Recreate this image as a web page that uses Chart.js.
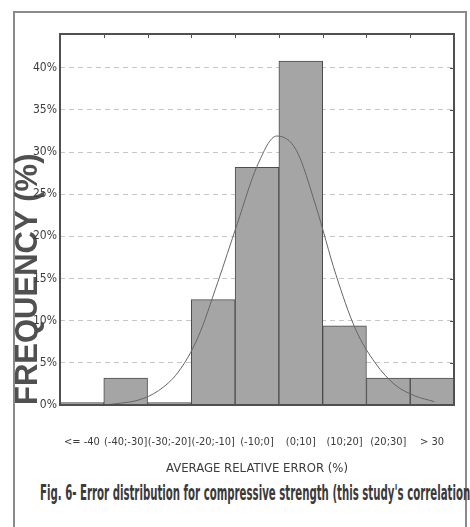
<!DOCTYPE html>
<html>
<head>
<meta charset="utf-8">
<script src="https://cdn.jsdelivr.net/npm/chart.js@4.4.1/dist/chart.umd.min.js"></script>
<style>
  html, body { margin: 0; padding: 0; background: #fff; }
  body { width: 470px; height: 527px; position: relative; overflow: hidden; }
  #frame { position: absolute; left: 13px; top: 11px; width: 450px; height: 530px; border: 2px solid #8a8a8a; border-bottom: none; }
  #wrap { position: absolute; left: 0; top: 0; width: 470px; height: 480px; }
  #caption { position: absolute; left: 40px; top: 480px; white-space: nowrap; font: bold 22px 'DejaVu Sans Condensed', 'Liberation Sans', sans-serif; color: #3a3a3a; transform: scaleX(0.515); transform-origin: 0 0; }
</style>
</head>
<body>
<div id="frame"></div>
<div id="wrap"><canvas id="chart"></canvas></div>
<div id="caption">Fig. 6- Error distribution for compressive strength (this study's correlation</div>
<script>
const categories = ['<= -40', '(-40;-30]', '(-30;-20]', '(-20;-10]', '(-10;0]', '(0;10]', '(10;20]', '(20;30]', '> 30'];
const frequency = [0.3, 3.2, 0.3, 12.5, 28.2, 40.8, 9.4, 3.2, 3.2];

// bins span -50..40 on the error axis; fitted curve
const errorRange = [-50, 40];
const curveError = [-50, -45, -40, -35, -30, -25, -20, -15, -10, -5, 0, 5, 10, 15, 20, 25, 30, 35, 40];
const curveFrequency = [0, 0, 0.2, 0.6, 1.7, 3.9, 8.0, 14.5, 21.5, 28.3, 31.9, 30.2, 23.5, 15.5, 9.0, 5.0, 2.4, 1.1, 0.4];

const yTicks = [0, 5, 10, 15, 20, 25, 30, 35, 40];

const narrow = "'DejaVu Sans Condensed', 'Liberation Sans', sans-serif";

const plotFrame = {
    id: 'plotFrame',
    afterDatasetsDraw(chart) {
        const { ctx, chartArea: a, scales } = chart;
        ctx.save();
        ctx.strokeStyle = '#505050';
        ctx.lineWidth = 2;
        ctx.strokeRect(a.left, a.top, a.right - a.left, a.bottom - a.top);
        ctx.lineWidth = 1;
        ctx.beginPath();
        for (let i = 1; i < categories.length; i++) {
            const x = Math.round(scales.x.getPixelForValue(i - 0.5)) + 0.5;
            ctx.moveTo(x, a.top);
            ctx.lineTo(x, a.top + 4);
        }
        yTicks.slice(1).forEach(v => {
            const y = Math.round(scales.y.getPixelForValue(v)) + 0.5;
            ctx.moveTo(a.right, y);
            ctx.lineTo(a.right - 4, y);
        });
        ctx.stroke();
        ctx.restore();
    }
};

new Chart(document.getElementById('chart').getContext('2d'), {
    type: 'bar',
    data: {
        labels: categories,
        datasets: [
            {
                type: 'line',
                label: 'Normal fit',
                xAxisID: 'xc',
                data: curveError.map((x, i) => ({ x, y: curveFrequency[i] })),
                borderColor: '#666',
                borderWidth: 1,
                pointRadius: 0,
                cubicInterpolationMode: 'monotone',
                order: 0,
            },
            {
                label: 'Frequency',
                data: frequency,
                backgroundColor: '#a5a5a5',
                borderColor: '#4d4d4d',
                borderWidth: 1,
                barPercentage: 1,
                categoryPercentage: 1,
                grouped: false,
                order: 1,
            }
        ]
    },
    options: {
        responsive: true,
        maintainAspectRatio: false,
        animation: false,
        layout: { padding: { left: 0, right: 16, top: 34, bottom: 0 } },
        scales: {
            x: {
                offset: true,
                grid: { display: false },
                border: { display: false },
                ticks: {
                    color: '#3c3c3c',
                    font: { family: narrow, size: 11 },
                    padding: 23,
                    maxRotation: 0,
                    autoSkip: false,
                },
                title: {
                    display: true,
                    text: 'AVERAGE RELATIVE ERROR (%)',
                    color: '#3c3c3c',
                    font: { family: narrow, size: 13 },
                    padding: { top: 0, bottom: 4 },
                },
                afterFit: (s) => { s.height = 75; }
            },
            xc: {
                type: 'linear',
                min: errorRange[0],
                max: errorRange[1],
                display: false,
            },
            y: {
                min: 0,
                max: 44,
                afterBuildTicks: (s) => { s.ticks = yTicks.map(v => ({ value: v })); },
                grid: {
                    color: (c) => c.tick && c.tick.value === 0 ? 'transparent' : '#c6c6c6',
                    drawTicks: false,
                },
                border: { display: false, dash: [5, 4] },
                ticks: {
                    color: '#3c3c3c',
                    font: { family: narrow, size: 12 },
                    padding: 3,
                    callback: (v) => v + '%',
                },
                title: {
                    display: true,
                    text: 'FREQUENCY (%)',
                    align: 'start',
                    color: '#505050',
                    font: { family: "'Liberation Sans', Arial, sans-serif", size: 31, weight: 'bold' },
                    padding: { top: 10, bottom: 0 },
                },
                afterFit: (s) => { s.width = 60; }
            }
        },
        plugins: {
            legend: { display: false },
            tooltip: { enabled: false },
        }
    },
    plugins: [plotFrame]
});
</script>
</body>
</html>
